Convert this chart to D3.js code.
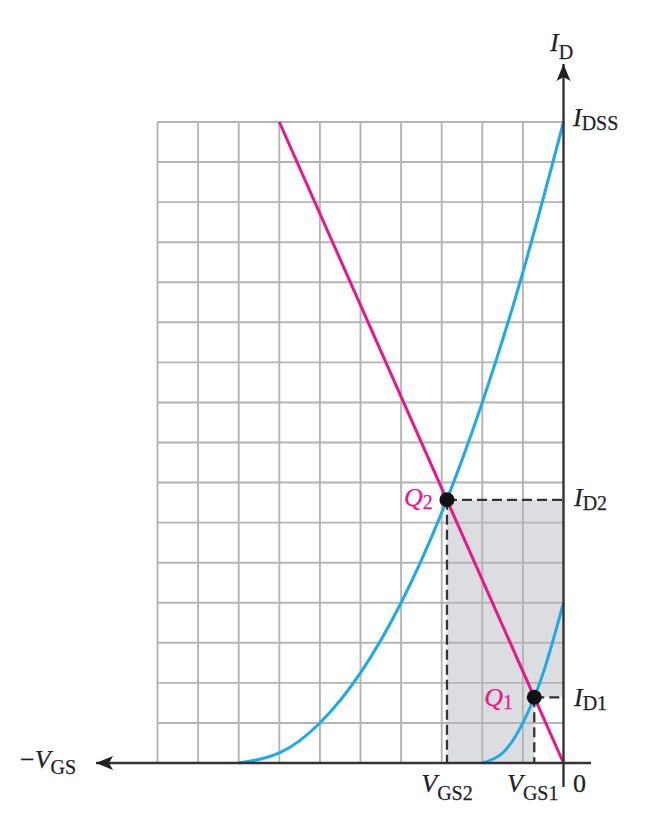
<!DOCTYPE html>
<html>
<head>
<meta charset="utf-8">
<script src="https://cdn.jsdelivr.net/npm/d3@7"></script>
<style>
  html, body { margin: 0; padding: 0; background: #fff; }
  svg { display: block; }
  text { font-family: "Liberation Serif", "DejaVu Serif", serif; fill: #1f1f2b; stroke: #1f1f2b; stroke-width: 0.25; }
</style>
</head>
<body>
<svg id="chart" width="652" height="823"></svg>
<script>
// JFET transfer curves with a self-bias load line (grid units: VGS in divisions, ID in divisions)
const gridVgs = [-10, -9, -8, -7, -6, -5, -4, -3, -2, -1, 0];
const gridId = [0, 1, 2, 3, 4, 5, 6, 7, 8, 9, 10, 11, 12, 13, 14, 15, 16];

// Device with the larger IDSS (pinch-off at -8 divisions)
const curve2Vgs = [-8, -7, -6, -5, -4, -3, -2, -1, 0];
const curve2Id = [0, 0.25, 1, 2.25, 4, 6.25, 9, 12.25, 16];

// Device with the smaller IDSS (pinch-off at -2 divisions)
const curve1Vgs = [-2, -1.5, -1, -0.5, 0];
const curve1Id = [0, 0.25, 1, 2.25, 4];

// Self-bias line VGS = -ID·RS
const loadVgs = [-7, 0];
const loadId = [16, 0];

// Operating points
const qNames = ["1", "2"];
const qVgs = [-0.72, -2.87];
const qId = [1.64, 6.57];

const svg = d3.select("#chart");
const x = d3.scaleLinear().domain([-10, 0]).range([157.5, 563.5]);
const y = d3.scaleLinear().domain([0, 16]).range([763, 122]);

const blue = "#1eaae7";
const magenta = "#e8168b";
const axisCol = "#333";

// Shaded region between Q2 and the origin, excluding the Q1 rectangle
const q1 = { v: qVgs[0], i: qId[0] }, q2 = { v: qVgs[1], i: qId[1] };
svg.append("path")
  .attr("d", [
    "M", x(q2.v), y(0),
    "L", x(q2.v), y(q2.i),
    "L", x(0), y(q2.i),
    "L", x(0), y(q1.i),
    "L", x(q1.v), y(q1.i),
    "L", x(q1.v), y(0), "Z"].join(" "))
  .attr("fill", "#dcdde0");

// Grid
const grid = svg.append("g").attr("stroke", "#b4b4b4").attr("stroke-width", 1.9);
grid.selectAll("line.v").data(gridVgs.filter(d => d < 0)).join("line")
  .attr("x1", d => x(d)).attr("x2", d => x(d))
  .attr("y1", y(0)).attr("y2", y(16));
grid.selectAll("line.h").data(gridId.filter(d => d > 0)).join("line")
  .attr("x1", x(-10)).attr("x2", x(0))
  .attr("y1", d => y(d)).attr("y2", d => y(d));

// Dashed projections from the Q points to the axes
const dash = svg.append("g").attr("stroke", axisCol).attr("stroke-width", 2.3).attr("stroke-dasharray", "10,5").attr("fill", "none");
qVgs.forEach((v, k) => {
  dash.append("line").attr("x1", x(v)).attr("x2", x(0)).attr("y1", y(qId[k])).attr("y2", y(qId[k]));
  dash.append("line").attr("x1", x(v)).attr("x2", x(v)).attr("y1", y(qId[k])).attr("y2", y(0));
});

// Transfer curves
const line = d3.line().x(d => x(d[0])).y(d => y(d[1])).curve(d3.curveNatural);
svg.append("path").datum(d3.zip(curve2Vgs, curve2Id)).attr("d", line)
  .attr("fill", "none").attr("stroke", blue).attr("stroke-width", 3);
svg.append("path").datum(d3.zip(curve1Vgs, curve1Id)).attr("d", line)
  .attr("fill", "none").attr("stroke", blue).attr("stroke-width", 3);

// Load line
svg.append("path").datum(d3.zip(loadVgs, loadId)).attr("d", d3.line().x(d => x(d[0])).y(d => y(d[1])))
  .attr("fill", "none").attr("stroke", magenta).attr("stroke-width", 3);

// Axes with arrows
const defs = svg.append("defs");
defs.append("marker").attr("id", "arrow")
  .attr("markerUnits", "userSpaceOnUse").attr("orient", "auto")
  .attr("viewBox", "0 0 18 16").attr("refX", 17).attr("refY", 8)
  .attr("markerWidth", 18).attr("markerHeight", 16)
  .append("path").attr("d", "M0,1 L17,8 L0,15 L4,8 Z").attr("fill", "#222");

svg.append("line").attr("x1", 591).attr("x2", 96).attr("y1", y(0)).attr("y2", y(0))
  .attr("stroke", axisCol).attr("stroke-width", 2.4).attr("marker-end", "url(#arrow)");
svg.append("line").attr("x1", x(0)).attr("x2", x(0)).attr("y1", 787).attr("y2", 64)
  .attr("stroke", axisCol).attr("stroke-width", 2.4).attr("marker-end", "url(#arrow)");

// Q points
svg.selectAll("circle.q").data(qVgs).join("circle")
  .attr("cx", d => x(d)).attr("cy", (d, k) => y(qId[k])).attr("r", 7.5).attr("fill", "#111");

// Labels with subscripts
function label(xp, yp, main, sub, opts = {}) {
  const t = svg.append("text").attr("x", xp).attr("y", yp)
    .attr("text-anchor", opts.anchor || "start");
  if (opts.color) t.style("fill", opts.color).style("stroke", opts.color);
  if (opts.prefix) t.append("tspan").attr("font-size", 26).text(opts.prefix);
  t.append("tspan").attr("font-size", 26).attr("font-style", opts.upright ? "normal" : "italic").text(main);
  if (sub) t.append("tspan").attr("font-size", 20).attr("dy", opts.dy != null ? opts.dy : 5).text(sub);
  return t;
}

label(550, 51, "I", "D", { dy: 8 });
label(573, 126, "I", "DSS", { dy: 4 });
label(574, 506, "I", "D2", { dy: 4 });
label(574, 706, "I", "D1", { dy: 4 });
label(x(qVgs[1]), 792, "V", "GS2", { anchor: "middle", dy: 8 });
label(507, 792, "V", "GS1", { dy: 8 });
label(573, 792, "0", null, { upright: true });
label(20, 768, "V", "GS", { prefix: "\u2212", dy: 6 });
label(x(qVgs[1]) - 43, 506, "Q", qNames[1], { color: magenta, dy: 3 });
label(x(qVgs[0]) - 50, 706, "Q", qNames[0], { color: magenta, dy: 3 });
</script>
</body>
</html>
